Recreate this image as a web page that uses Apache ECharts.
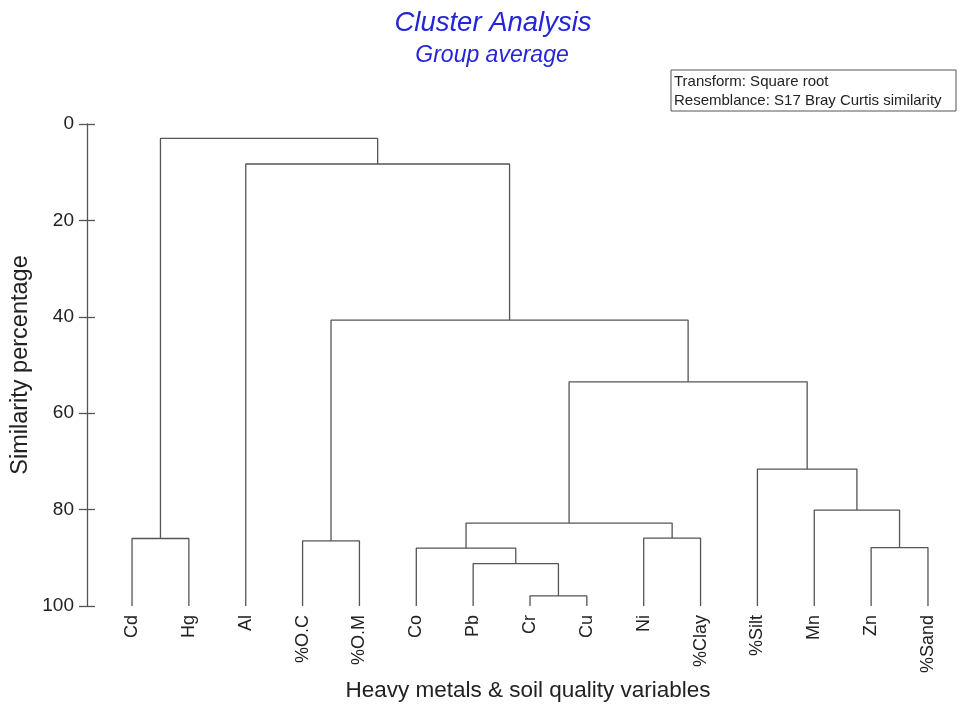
<!DOCTYPE html>
<html>
<head>
<meta charset="utf-8">
<script src="https://cdn.jsdelivr.net/npm/echarts@6/dist/echarts.min.js"></script>
<style>html,body{margin:0;padding:0;background:#fff;}#c{width:973px;height:710px;}</style>
</head>
<body>
<div id="c"></div>
<script>
// Leaves (left to right)
var leaves = ['Cd','Hg','Al','%O.C','%O.M','Co','Pb','Cr','Cu','Ni','%Clay','%Silt','Mn','Zn','%Sand'];
// Merges: node ids 0..14 are leaves; merge k creates node 15+k
var mergeLeft   = [7, 6, 5, 9, 17, 13, 12, 11, 19, 3, 24, 2, 0, 27];
var mergeRight  = [8, 15, 16, 10, 18, 14, 20, 21, 22, 4, 23, 25, 1, 26];
var mergeHeight = [97.9, 91.2, 88.0, 85.9, 82.8, 87.9, 80.1, 71.6, 53.5, 86.5, 40.7, 8.3, 86.0, 3.0];
var yTicks = [0, 20, 40, 60, 80, 100];

var nodeX = [], nodeY = [];
leaves.forEach(function (l, i) { nodeX[i] = i; nodeY[i] = 100; });
var series = [];
for (var k = 0; k < mergeLeft.length; k++) {
  var a = mergeLeft[k], b = mergeRight[k], h = mergeHeight[k];
  var id = leaves.length + k;
  nodeX[id] = (nodeX[a] + nodeX[b]) / 2;
  nodeY[id] = h;
  series.push({
    type: 'line', xAxisIndex: 1, yAxisIndex: 0, symbol: 'none', silent: true,
    animation: false, clip: false,
    lineStyle: { color: '#555', width: 1.3 },
    data: [[nodeX[a], nodeY[a]], [nodeX[a], h], [nodeX[b], h], [nodeX[b], nodeY[b]]]
  });
}

var FONT = '"Liberation Sans", Arial, sans-serif';
var chart = echarts.init(document.getElementById('c'), null, { renderer: 'canvas' });
chart.setOption({
  backgroundColor: '#fff',
  animation: false,
  textStyle: { fontFamily: FONT },
  grid: { left: 103.6, right: 16.6, top: 124, bottom: 104, outerBoundsMode: 'none', containLabel: false },
  xAxis: [{
    type: 'category', data: leaves, position: 'bottom',
    axisLine: { show: false, onZero: false }, axisTick: { show: false }, splitLine: { show: false },
    axisLabel: { rotate: 90, interval: 0, margin: 9, fontSize: 18, color: '#222', fontFamily: FONT }
  }, {
    type: 'value', min: -0.5, max: 14.5, show: false
  }],
  yAxis: [{
    type: 'value', inverse: true, min: 0, max: 100, interval: 20, position: 'left', offset: 16.6,
    axisLine: { show: true, onZero: false, lineStyle: { color: '#555', width: 1.3 } },
    axisTick: { show: true, length: 8, inside: false, lineStyle: { color: '#555', width: 1.3 } },
    splitLine: { show: false },
    axisLabel: { margin: 13, fontSize: 19, color: '#222', fontFamily: FONT,
      formatter: function (v) { return yTicks.indexOf(v) >= 0 ? String(v) : ''; } },
    name: 'Similarity percentage', nameLocation: 'middle', nameRotate: 90, nameGap: 54,
    nameMoveOverlap: false,
    nameTextStyle: { fontSize: 23.5, color: '#222', fontFamily: FONT }
  }, {
    type: 'value', inverse: true, min: 0, max: 100, interval: 20, position: 'left', offset: 16.6,
    axisLine: { show: false, onZero: false },
    axisTick: { show: true, length: 8, inside: true, lineStyle: { color: '#555', width: 1.3 } },
    splitLine: { show: false }, axisLabel: { show: false }
  }],
  graphic: [
    { type: 'text', silent: true, x: 493, y: 23, style: { text: 'Cluster Analysis', fill: '#2424d8',
      font: 'italic 27.5px ' + FONT, textAlign: 'center', textVerticalAlign: 'middle' } },
    { type: 'text', silent: true, x: 492, y: 56, style: { text: 'Group average', fill: '#2424d8',
      font: 'italic 23px ' + FONT, textAlign: 'center', textVerticalAlign: 'middle' } },
    { type: 'text', silent: true, x: 528, y: 691, style: { text: 'Heavy metals & soil quality variables', fill: '#222',
      font: '22.5px ' + FONT, textAlign: 'center', textVerticalAlign: 'middle' } },
    { type: 'rect', silent: true, shape: { x: 671, y: 70, width: 285, height: 41 },
      style: { fill: '#fff', stroke: '#555', lineWidth: 1 } },
    { type: 'text', silent: true, x: 674, y: 81.5, style: { text: 'Transform: Square root', fill: '#222',
      font: '15px ' + FONT, textAlign: 'left', textVerticalAlign: 'middle' } },
    { type: 'text', silent: true, x: 674, y: 100.5, style: { text: 'Resemblance: S17 Bray Curtis similarity', fill: '#222',
      font: '15px ' + FONT, textAlign: 'left', textVerticalAlign: 'middle' } }
  ],
  series: series
});
</script>
</body>
</html>
